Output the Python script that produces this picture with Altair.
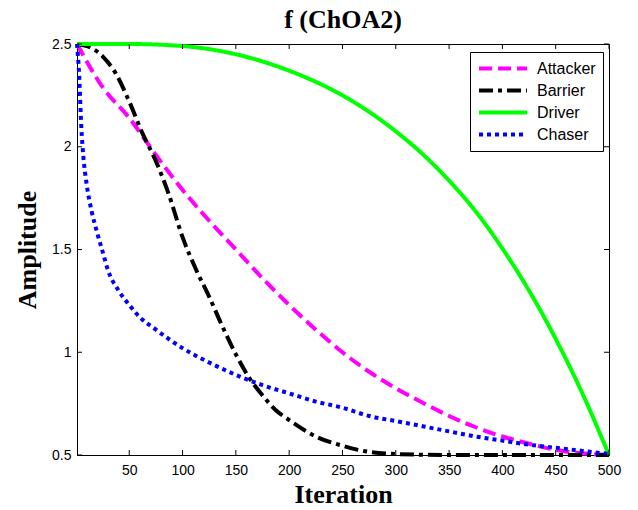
import altair as alt
import pandas as pd

series_names = ["Attacker", "Barrier", "Driver", "Chaser"]
series_colors = ["#ff00ff", "#000000", "#00ff00", "#0000ff"]
series_dashes = [[13, 6], [14, 5, 4, 5], [1, 0], [4, 4]]

attacker_t = [1, 25, 50, 75, 100, 125, 150, 175, 200, 225, 250, 275, 300, 325, 350, 375, 400, 425, 450, 475, 500]
attacker_v = [2.5, 2.29, 2.14, 1.96, 1.79, 1.64, 1.5, 1.36, 1.23, 1.11, 1.0, 0.905, 0.825, 0.755, 0.69, 0.635, 0.59, 0.555, 0.525, 0.508, 0.5]

barrier_t = [1, 15, 25, 37, 50, 62, 75, 87, 100, 112, 125, 137, 150, 162, 175, 187, 200, 225, 250, 275, 300, 350, 400, 450, 500]
barrier_v = [2.5, 2.48, 2.44, 2.36, 2.22, 2.07, 1.93, 1.77, 1.56, 1.41, 1.27, 1.13, 0.99, 0.88, 0.79, 0.72, 0.67, 0.59, 0.545, 0.515, 0.505, 0.5, 0.5, 0.5, 0.5]

driver_t = [1, 50, 100, 150, 200, 250, 275, 300, 325, 350, 375, 400, 425, 450, 475, 500]
driver_v = [2.5, 2.5, 2.49, 2.45, 2.37, 2.25, 2.17, 2.075, 1.965, 1.835, 1.685, 1.505, 1.3, 1.065, 0.8, 0.5]

chaser_t = [1, 3, 5, 7, 10, 15, 20, 25, 30, 40, 50, 60, 75, 100, 125, 150, 175, 200, 225, 250, 275, 300, 325, 350, 375, 400, 425, 450, 475, 500]
chaser_v = [2.5, 2.35, 2.1, 1.95, 1.82, 1.68, 1.58, 1.49, 1.4, 1.3, 1.23, 1.17, 1.11, 1.02, 0.95, 0.89, 0.84, 0.8, 0.76, 0.73, 0.69, 0.665, 0.64, 0.615, 0.59, 0.57, 0.55, 0.535, 0.52, 0.505]

x_ticks = [50, 100, 150, 200, 250, 300, 350, 400, 450, 500]
y_ticks = [0.5, 1, 1.5, 2, 2.5]

W, H = 532, 411

rows = []
for name, ts, vs in [("Attacker", attacker_t, attacker_v), ("Barrier", barrier_t, barrier_v),
                     ("Driver", driver_t, driver_v), ("Chaser", chaser_t, chaser_v)]:
    for t, v in zip(ts, vs):
        rows.append({"Iteration": t, "Amplitude": v, "series": name})
df = pd.DataFrame(rows)

xscale = alt.Scale(domain=[1, 500], nice=False, zero=False)
yscale = alt.Scale(domain=[0.5, 2.5], nice=False, zero=False)
x_axis = alt.Axis(values=x_ticks, title="Iteration", ticks=False, labelPadding=8,
                  titlePadding=4, grid=False, labelFlush=False)
y_axis = alt.Axis(values=y_ticks, title="Amplitude", ticks=False, labelPadding=6,
                  titlePadding=11, format="~g", grid=False, labelFlush=False)

lines = alt.Chart(df).mark_line(strokeWidth=4, interpolate="monotone", strokeCap="butt").encode(
    x=alt.X("Iteration:Q", scale=xscale, axis=x_axis),
    y=alt.Y("Amplitude:Q", scale=yscale, axis=y_axis),
    color=alt.Color("series:N", scale=alt.Scale(domain=series_names, range=series_colors),
                    legend=alt.Legend(title=None)),
    strokeDash=alt.StrokeDash("series:N", scale=alt.Scale(domain=series_names, range=series_dashes),
                              legend=alt.Legend(title=None)),
    detail="series:N",
)

xt = pd.DataFrame({"Iteration": x_ticks})
yt = pd.DataFrame({"Amplitude": y_ticks})

xt_bottom = alt.Chart(xt).mark_rule(color="black", strokeWidth=1).encode(
    x=alt.X("Iteration:Q", scale=xscale, axis=x_axis), y=alt.value(H), y2=alt.value(H - 5))
xt_top = alt.Chart(xt).mark_rule(color="black", strokeWidth=1).encode(
    x=alt.X("Iteration:Q", scale=xscale, axis=x_axis), y=alt.value(0), y2=alt.value(5))
yt_left = alt.Chart(yt).mark_rule(color="black", strokeWidth=1).encode(
    y=alt.Y("Amplitude:Q", scale=yscale, axis=y_axis), x=alt.value(0), x2=alt.value(5))
yt_right = alt.Chart(yt).mark_rule(color="black", strokeWidth=1).encode(
    y=alt.Y("Amplitude:Q", scale=yscale, axis=y_axis), x=alt.value(W), x2=alt.value(W - 5))

chart = alt.layer(lines, xt_bottom, xt_top, yt_left, yt_right).properties(
    width=W, height=H,
    title=alt.TitleParams("f (ChOA2)", font="Liberation Serif", fontSize=26, fontWeight="bold",
                          anchor="middle", offset=3, color="black"),
    autosize=alt.AutoSizeParams(type="none"),
    padding={"left": 77, "top": 44, "right": 29, "bottom": 55},
    background="white",
).configure_view(
    stroke="black", strokeWidth=1
).configure_axis(
    domainColor="black", domainWidth=1,
    labelFont="Liberation Sans", labelFontSize=14, labelColor="black",
    titleFont="Liberation Serif", titleFontSize=26, titleFontWeight="bold", titleColor="black",
).configure_legend(
    orient="none", legendX=393, legendY=8,
    strokeColor="black", fillColor="white", padding=7, cornerRadius=0,
    labelFont="Liberation Sans", labelFontSize=16, labelColor="black",
    symbolType="stroke", symbolSize=2300, symbolStrokeWidth=4,
    clipHeight=19, rowPadding=3, labelOffset=8,
)

chart.save("out.html", embed_options={"renderer": "svg", "actions": False})
